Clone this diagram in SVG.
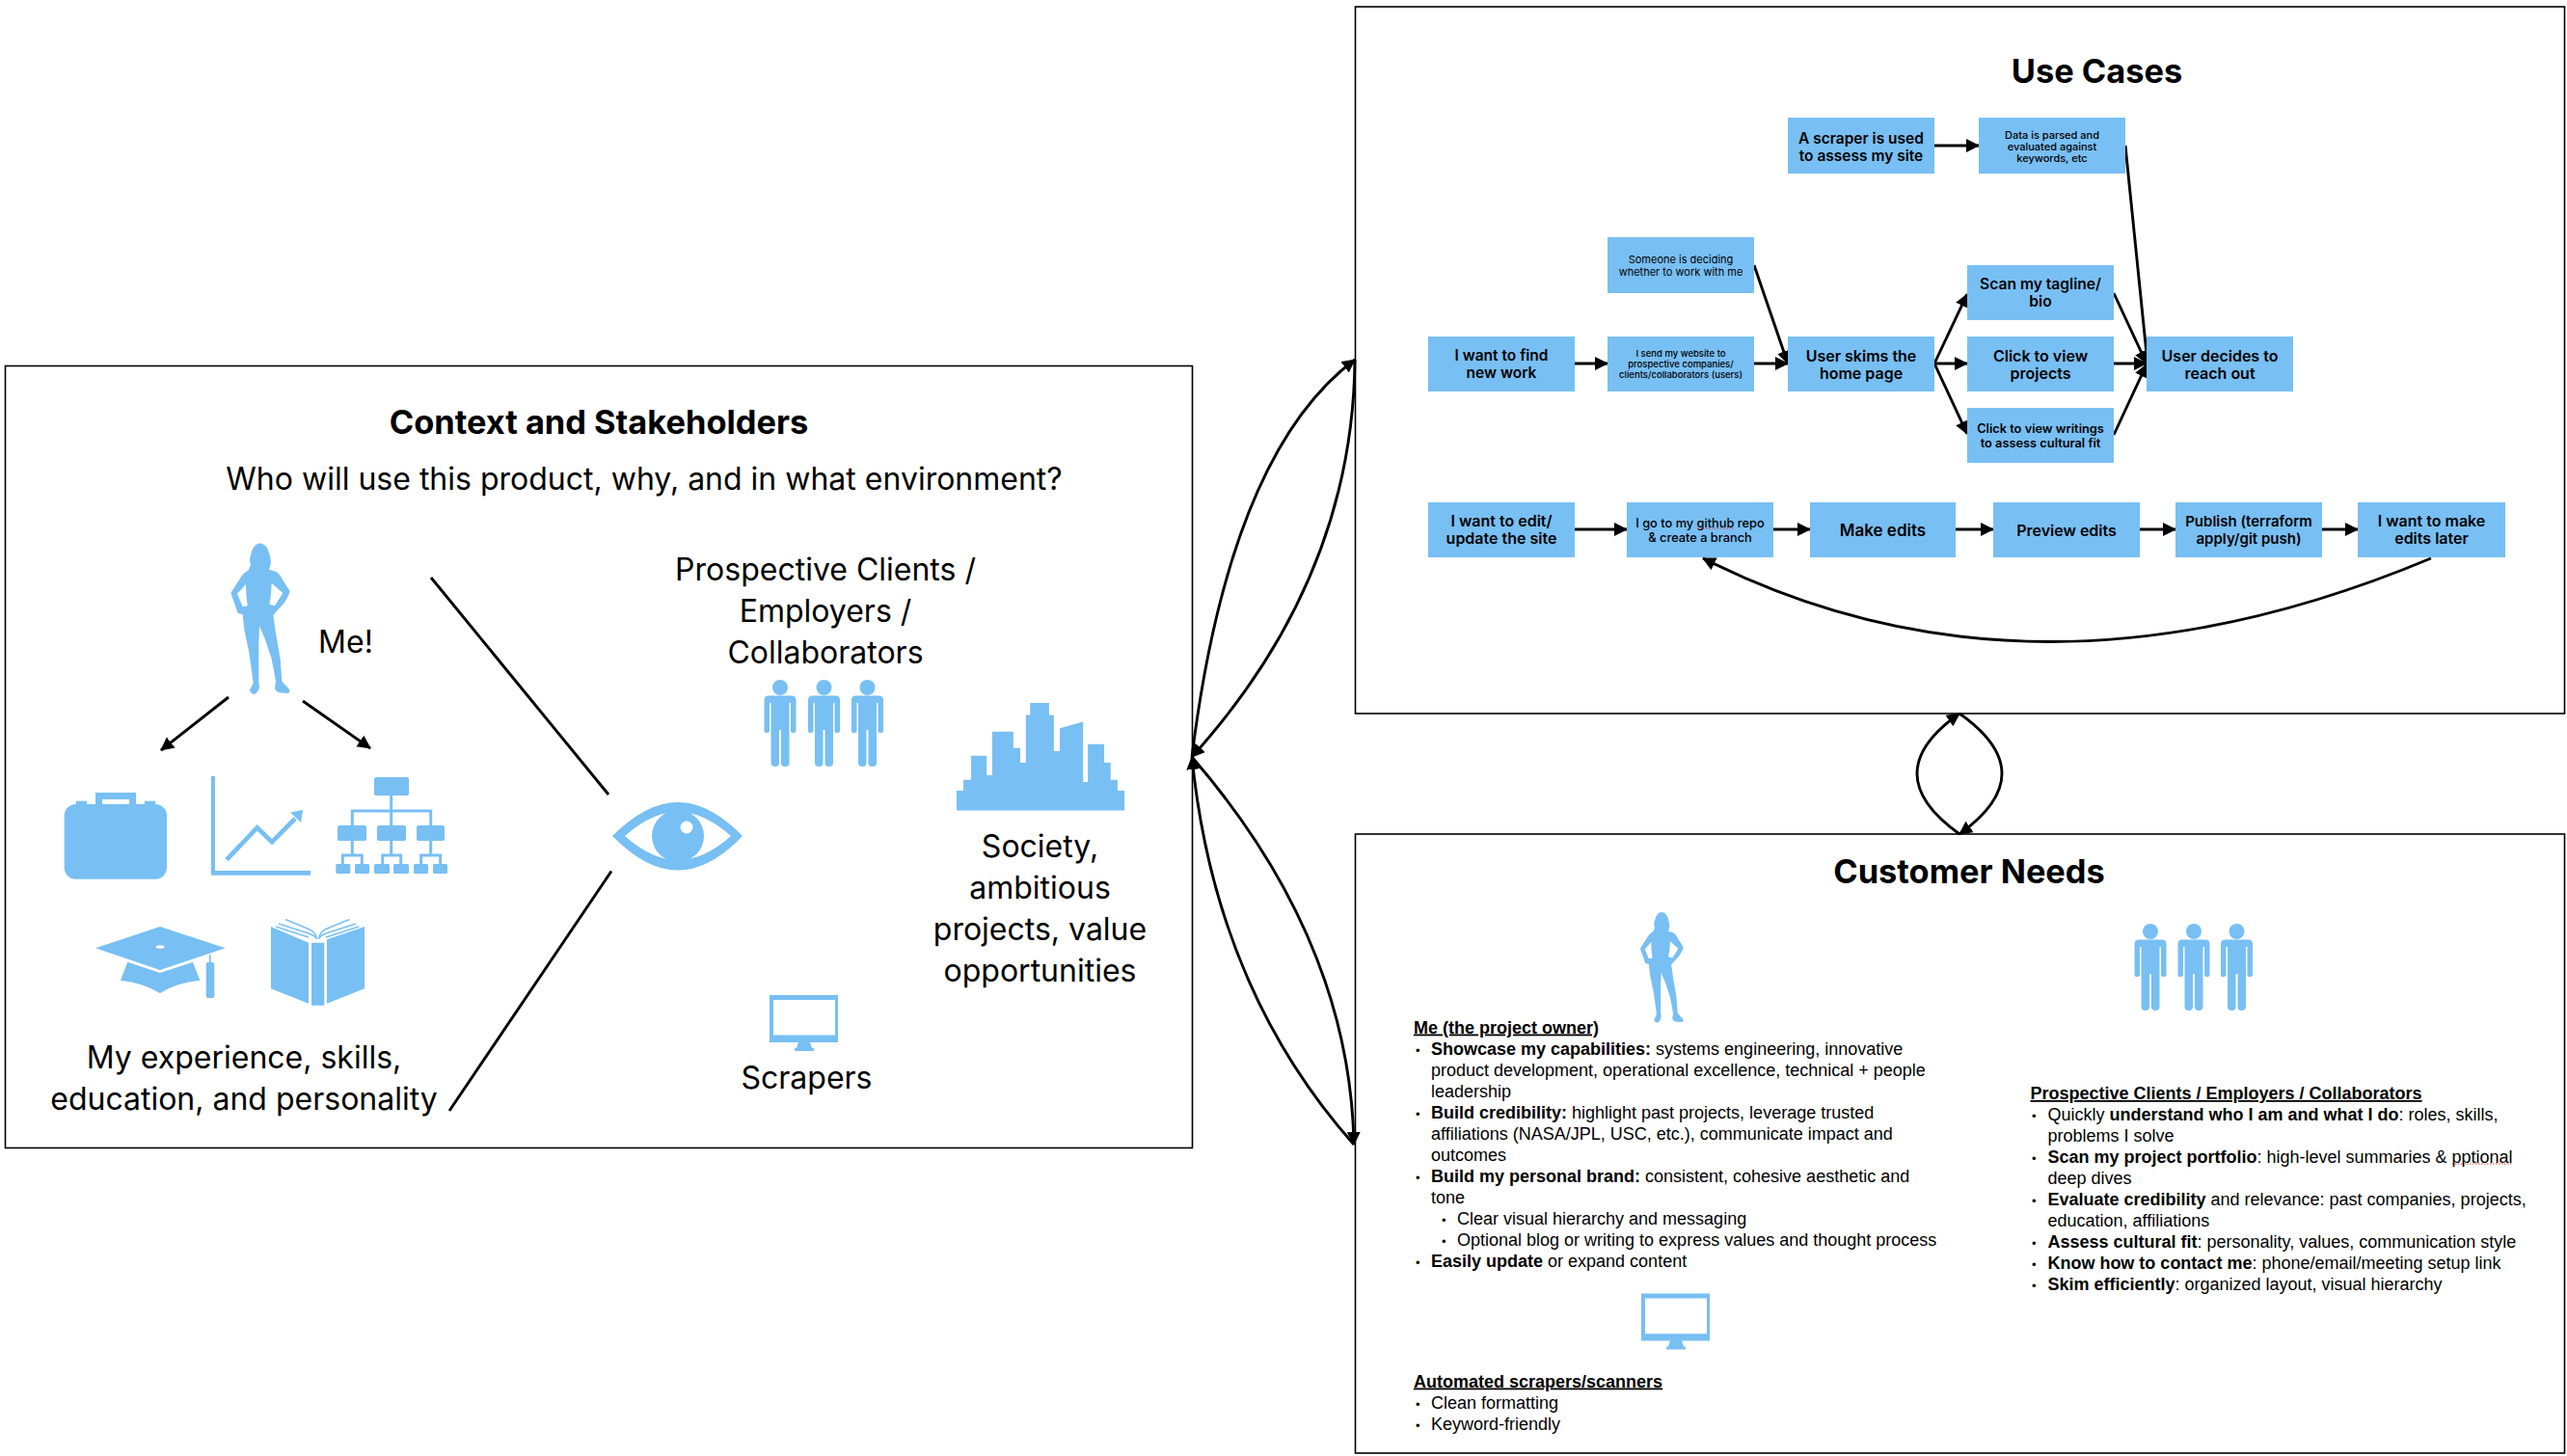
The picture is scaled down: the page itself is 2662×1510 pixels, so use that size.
<svg xmlns="http://www.w3.org/2000/svg" width="2662" height="1510" viewBox="0 0 2662 1510">
<style>
text{font-family:"Inter","Liberation Sans",sans-serif;fill:#000}
.h{font-size:34.4px;font-weight:700;text-anchor:middle}
.l{font-size:32px;text-anchor:middle;transform:translateY(-1.5px)}
.frame{fill:#fff;stroke:#000;stroke-width:1.6}
.ic{fill:#78BFF3}
.ist{fill:none;stroke:#78BFF3}
.box{fill:#78BFF3}
.b{font-size:16px;font-weight:600;text-anchor:middle}
.b2{font-size:12.8px;font-weight:600;text-anchor:middle}
.b3{font-size:11px;font-weight:500;text-anchor:middle}
.t{font-family:"Liberation Sans",Arial,sans-serif;font-size:18px}
.t tspan.s{font-weight:700}
.u{font-family:"Liberation Sans",Arial,sans-serif;font-size:18px;font-weight:700;text-decoration:underline}
.dot{font-family:"Liberation Sans",Arial,sans-serif;font-size:13px}
.c{fill:none;stroke:#000;stroke-width:2.9;marker-end:url(#ah)}
.n{fill:none;stroke:#000;stroke-width:2.9}
.sq{fill:none;stroke:#d23c3c;stroke-width:1.2;stroke-dasharray:1.5 1.5}
</style>
<defs>
<marker id="ah" markerUnits="userSpaceOnUse" markerWidth="16" markerHeight="15" refX="13" refY="7" orient="auto"><path d="M0,0 L14,7 L0,14 Z" fill="#000"/></marker>
<g id="person">
<circle cx="0" cy="8" r="8"/>
<path d="M-16.5 21Q-16.5 16.5-12 16.5H12Q16.5 16.5 16.5 21V53Q16.5 55 14 55Q11 55 11 53V24H9.5V86Q9.5 90 5 90Q1 90 1 86V52H-1V86Q-1 90-5 90Q-9.5 90-9.5 86V24H-11V53Q-11 55-13.5 55Q-16.5 55-16.5 53Z"/>
</g>
<path id="woman" fill-rule="evenodd" d="M207 40Q230 42 237 70Q243 90 243 100Q240 115 237 122L258 128Q268 132 280 155L302 190Q300 200 285 225L255 258L250 264L258 320L272 400L277 470L298 492Q306 505 295 507L268 505Q255 500 255 490L258 470L245 400L225 340L207 298L205 350L205 470L207 488Q200 510 190 510Q175 505 178 495L188 475L175 380L160 310L155 262L140 258L118 195L150 145Q160 130 172 125L180 108Q176 95 178 85Q185 45 207 40ZM165 168L138 197L155 238L170 235Q165 200 165 168ZM245 165L280 195L255 235L238 230Q245 200 245 165Z"/>
<path id="monitor" fill-rule="evenodd" d="M798 1032H869V1081H840L842 1087H844V1090H824V1087H826L828 1081H798ZM802 1037V1073.6H866V1037Z"/>
</defs>

<g id="context">
<rect class="frame" x="5.5" y="379.5" width="1231" height="811"/>
<text class="h" x="621" y="450">Context and Stakeholders</text>
<text class="l" x="668" y="509">Who will use this product, why, and in what environment?</text>
</g>
<g id="use-cases-frame">
<rect class="frame" x="1405.5" y="7" width="1254" height="733"/>
<text class="h" x="2174.5" y="86">Use Cases</text>
</g>
<g id="customer-needs-frame">
<rect class="frame" x="1405.5" y="865" width="1254" height="642"/>
<text class="h" x="2042" y="916">Customer Needs</text>
</g>

<g id="me">
<use href="#woman" class="ic" transform="translate(200,550) scale(.3333)"/>
<text class="l" x="358.5" y="678">Me!</text>
</g>
<g id="experience">
<g id="briefcase" class="ic">
<rect x="66.7" y="834" width="106.3" height="77.7" rx="12"/>
<path fill-rule="evenodd" d="M99 834V822H141V834H134V829H106V834Z"/>
<rect x="79" y="830.7" width="11" height="4"/><rect x="150" y="830.7" width="11" height="4"/>
</g>
<g id="chart">
<path class="ic" d="M219 805H223V903H322V907.7H219Z"/>
<path class="ist" stroke-width="4.7" d="M235 891.7L266.7 858.3L282 873.3L306 849"/>
<path class="ic" d="M314 840L301 842.5L312 853Z"/>
</g>
<g id="org">
<g class="ic">
<rect x="388" y="806" width="36" height="19" rx="2"/>
<rect x="350" y="856" width="30" height="16" rx="2"/><rect x="391" y="856" width="30" height="16" rx="2"/><rect x="432" y="856" width="29" height="16" rx="2"/>
<rect x="348.3" y="896" width="15" height="10" rx="1.5"/><rect x="368" y="896" width="15" height="10" rx="1.5"/><rect x="388" y="896" width="16" height="10" rx="1.5"/><rect x="408" y="896" width="16" height="10" rx="1.5"/><rect x="429" y="896" width="15" height="10" rx="1.5"/><rect x="449" y="896" width="15" height="10" rx="1.5"/>
</g>
<path class="ist" stroke-width="3" d="M405.7 825V887M365.3 856V841H446.7V856M365.3 872V887M446.7 872V887M355.3 896V887H375.3V896M396.7 896V887H415.7V896M436.7 896V887H456.7V896"/>
</g>
<g id="cap" class="ic">
<path d="M99 983.3L166 961L233.7 983.3L166 1006Z M166 980.3a4.7 1.7 0 1 0 .01 0Z" fill-rule="evenodd"/>
<path d="M125 1016.7L132.3 997.7L166 1009L200 997.7L207.3 1016.7Q183 1019 166 1030Q148 1019 125 1016.7Z"/>
<rect x="216.8" y="990" width="1.8" height="9"/>
<rect x="213.7" y="998" width="8.6" height="37" rx="2"/>
</g>
<g id="book">
<path class="ic" d="M281 961L320 977.7V1040.7L281 1025.3ZM339 974.3L378 961V1025.3L339 1040.7ZM323 977.7H336.3V1042.7H323Z"/>
<path class="ist" stroke-width="1.4" d="M296 953.5L320 963.5Q328 967 328.5 974M289 958L320 968Q328 971 328.5 974M286 961L320 972M362.5 953.5L338 963.5Q331 967 330.5 974M369 958L338 968Q331 971 330.5 974M372 961L338 972"/>
</g>
<text class="l" x="253" y="1109">My experience, skills,</text>
<text class="l" x="253" y="1152">education, and personality</text>
</g>
<g id="eye">
<path class="ic" fill-rule="evenodd" d="M635 867Q670 832 703 832Q736 832 770 867Q736 902.6 703 902.6Q670 902.6 635 867ZM648 867Q676 892 703 892Q730 892 758 867Q730 842 703 842Q676 842 648 867Z"/>
<circle class="ic" cx="703" cy="867" r="27"/>
<circle cx="712" cy="858" r="6.5" fill="#fff"/>
</g>
<g id="clients">
<text class="l" x="856" y="603">Prospective Clients /</text>
<text class="l" x="856" y="646">Employers /</text>
<text class="l" x="856" y="689">Collaborators</text>
<use href="#person" class="ic" x="809" y="705"/>
<use href="#person" class="ic" x="854.5" y="705"/>
<use href="#person" class="ic" x="899.5" y="705"/>
</g>
<g id="society">
<path class="ic" transform="translate(600,520) scale(.4464)" d="M878 718V672H894V647H912V591H948V636H961V535H1010V573H1026V607H1039V496H1049V468H1093V496H1104V580H1118V527L1172 512V652H1183V564H1221V607H1236V647H1252V672H1268V718Z"/>
<text class="l" x="1078.5" y="890.5">Society,</text>
<text class="l" x="1078.5" y="933.5">ambitious</text>
<text class="l" x="1078.5" y="976.5">projects, value</text>
<text class="l" x="1078.5" y="1019">opportunities</text>
</g>
<g id="scrapers">
<use href="#monitor" class="ic"/>
<text class="l" x="836.5" y="1130">Scrapers</text>
</g>

<g id="connectors">
<path class="n" d="M447 599L631 824"/>
<path class="n" d="M634 903.5L466 1152"/>
<path class="c" d="M237 723L167 778"/>
<path class="c" d="M314 727L384 776"/>
<path class="c" d="M1236 785Q1275 470 1405 373"/>
<path class="c" d="M1405 373Q1403 600 1236 785"/>
<path class="c" d="M1236 785Q1400 975 1404 1187"/>
<path class="c" d="M1404 1187Q1260 1025 1236 785"/>
<path class="c" d="M2032 865Q1944 802 2032 740"/>
<path class="c" d="M2032 740Q2120 802 2032 865"/>
<path class="c" d="M2006 151H2052"/>
<path class="c" d="M1633 377H1667"/>
<path class="c" d="M1819 377H1854"/>
<path class="c" d="M1819 275L1854 377"/>
<path class="c" d="M2006 377L2040 305"/>
<path class="c" d="M2006 377H2040"/>
<path class="c" d="M2006 377L2040 450"/>
<path class="c" d="M2192 304L2226 377"/>
<path class="c" d="M2192 377H2226"/>
<path class="c" d="M2192 451L2226 378"/>
<path class="c" d="M2204 151L2227 377"/>
<path class="c" d="M1633 549H1687"/>
<path class="c" d="M1839 549H1877"/>
<path class="c" d="M2028 549H2067"/>
<path class="c" d="M2219 549H2256"/>
<path class="c" d="M2408 549H2445"/>
<path class="c" d="M2521 579Q2108 752 1766 579"/>
</g>

<g id="n-scraper"><rect class="box" x="1854" y="122" width="152" height="58"/><text class="b" style="font-size:15.5px" x="1930" y="148.5">A scraper is used</text><text class="b" style="font-size:15.5px" x="1930" y="166.5">to assess my site</text></g>
<g id="n-data"><rect class="box" x="2052" y="122" width="152" height="58"/><text class="b3" x="2128" y="143.5">Data is parsed and</text><text class="b3" x="2128" y="155.5">evaluated against</text><text class="b3" x="2128" y="167.5">keywords, etc</text></g>
<g id="n-someone"><rect class="box" x="1667" y="246" width="152" height="58"/><text class="b2" style="font-size:11px;font-weight:400" x="1743" y="272.5">Someone is deciding</text><text class="b2" style="font-size:11px;font-weight:400" x="1743" y="286">whether to work with me</text></g>
<g id="n-find"><rect class="box" x="1481" y="349" width="152" height="57"/><text class="b" style="font-size:15.5px" x="1557" y="374">I want to find</text><text class="b" style="font-size:15.5px" x="1557" y="392">new work</text></g>
<g id="n-send"><rect class="box" x="1667" y="349" width="152" height="57"/><text class="b3" style="font-size:9.5px" x="1743" y="370">I send my website to</text><text class="b3" style="font-size:9.5px" x="1743" y="381">prospective companies/</text><text class="b3" style="font-size:9.5px" x="1743" y="392">clients/collaborators (users)</text></g>
<g id="n-skims"><rect class="box" x="1854" y="349" width="152" height="57"/><text class="b" x="1930" y="375">User skims the</text><text class="b" x="1930" y="393">home page</text></g>
<g id="n-scan"><rect class="box" x="2040" y="275" width="152" height="57"/><text class="b" style="font-size:15.6px" x="2116" y="300">Scan my tagline/</text><text class="b" style="font-size:15.6px" x="2116" y="318">bio</text></g>
<g id="n-view"><rect class="box" x="2040" y="349" width="152" height="57"/><text class="b" x="2116" y="375">Click to view</text><text class="b" x="2116" y="393">projects</text></g>
<g id="n-writings"><rect class="box" x="2040" y="423" width="152" height="57"/><text class="b2" x="2116" y="448.5">Click to view writings</text><text class="b2" x="2116" y="463.5">to assess cultural fit</text></g>
<g id="n-decides"><rect class="box" x="2226" y="349" width="152" height="57"/><text class="b" x="2302" y="375">User decides to</text><text class="b" x="2302" y="393">reach out</text></g>
<g id="n-edit"><rect class="box" x="1481" y="521" width="152" height="57"/><text class="b" x="1557" y="546">I want to edit/</text><text class="b" x="1557" y="564">update the site</text></g>
<g id="n-repo"><rect class="box" x="1687" y="521" width="152" height="57"/><text class="b2" style="font-weight:500" x="1763" y="546.5">I go to my github repo</text><text class="b2" style="font-weight:500" x="1763" y="561.5">&amp; create a branch</text><path class="sq" d="M1760 548H1798"/></g>
<g id="n-make"><rect class="box" x="1877" y="521" width="151" height="57"/><text class="b" style="font-size:17px" x="1952.5" y="556">Make edits</text></g>
<g id="n-preview"><rect class="box" x="2067" y="521" width="152" height="57"/><text class="b" x="2143" y="555.5">Preview edits</text></g>
<g id="n-publish"><rect class="box" x="2256" y="521" width="152" height="57"/><text class="b" style="font-size:15px" x="2332" y="546">Publish (terraform</text><text class="b" style="font-size:15px" x="2332" y="564">apply/git push)</text></g>
<g id="n-later"><rect class="box" x="2445" y="521" width="153" height="57"/><text class="b" x="2521.5" y="546">I want to make</text><text class="b" x="2521.5" y="564">edits later</text></g>

<g id="needs-me">
<use href="#woman" class="ic" transform="translate(1672,936) scale(.2444)"/>
<text class="u" x="1466" y="1071.5">Me (the project owner)</text>
<text class="dot" x="1468" y="1094">•</text><text class="t" x="1484" y="1094"><tspan class="s">Showcase my capabilities:</tspan> systems engineering, innovative</text>
<text class="t" x="1484" y="1116">product development, operational excellence, technical + people</text>
<text class="t" x="1484" y="1138">leadership</text>
<text class="dot" x="1468" y="1160">•</text><text class="t" x="1484" y="1160"><tspan class="s">Build credibility:</tspan> highlight past projects, leverage trusted</text>
<text class="t" x="1484" y="1182">affiliations (NASA/JPL, USC, etc.), communicate impact and</text>
<text class="t" x="1484" y="1204">outcomes</text>
<text class="dot" x="1468" y="1226">•</text><text class="t" x="1484" y="1226"><tspan class="s">Build my personal brand:</tspan> consistent, cohesive aesthetic and</text>
<text class="t" x="1484" y="1248">tone</text>
<text class="dot" x="1495" y="1270">•</text><text class="t" x="1511" y="1270">Clear visual hierarchy and messaging</text>
<text class="dot" x="1495" y="1292">•</text><text class="t" x="1511" y="1292">Optional blog or writing to express values and thought process</text>
<text class="dot" x="1468" y="1314">•</text><text class="t" x="1484" y="1314"><tspan class="s">Easily update</tspan> or expand content</text>
</g>
<g id="needs-scrapers">
<use href="#monitor" class="ic" transform="translate(904,309.6)"/>
<text class="u" x="1466" y="1438.5">Automated scrapers/scanners</text>
<text class="dot" x="1468" y="1460.5">•</text><text class="t" x="1484" y="1460.5">Clean formatting</text>
<text class="dot" x="1468" y="1482.5">•</text><text class="t" x="1484" y="1482.5">Keyword-friendly</text>
</g>
<g id="needs-clients">
<use href="#person" class="ic" x="2230" y="958"/>
<use href="#person" class="ic" x="2275" y="958"/>
<use href="#person" class="ic" x="2319.5" y="958"/>
<text class="u" x="2105.5" y="1140">Prospective Clients / Employers / Collaborators</text>
<text class="dot" x="2107" y="1162">•</text><text class="t" x="2123.4" y="1162">Quickly <tspan class="s">understand who I am and what I do</tspan>: roles, skills,</text>
<text class="t" x="2123.4" y="1184">problems I solve</text>
<text class="dot" x="2107" y="1206">•</text><text class="t" x="2123.4" y="1206"><tspan class="s">Scan my project portfolio</tspan>: high-level summaries &amp; pptional</text>
<path class="sq" d="M2543 1207H2605.5"/>
<text class="t" x="2123.4" y="1228">deep dives</text>
<text class="dot" x="2107" y="1250">•</text><text class="t" x="2123.4" y="1250"><tspan class="s">Evaluate credibility</tspan> and relevance: past companies, projects,</text>
<text class="t" x="2123.4" y="1272">education, affiliations</text>
<text class="dot" x="2107" y="1294">•</text><text class="t" x="2123.4" y="1294"><tspan class="s">Assess cultural fit</tspan>: personality, values, communication style</text>
<text class="dot" x="2107" y="1316">•</text><text class="t" x="2123.4" y="1316"><tspan class="s">Know how to contact me</tspan>: phone/email/meeting setup link</text>
<text class="dot" x="2107" y="1338">•</text><text class="t" x="2123.4" y="1338"><tspan class="s">Skim efficiently</tspan>: organized layout, visual hierarchy</text>
</g>
</svg>
